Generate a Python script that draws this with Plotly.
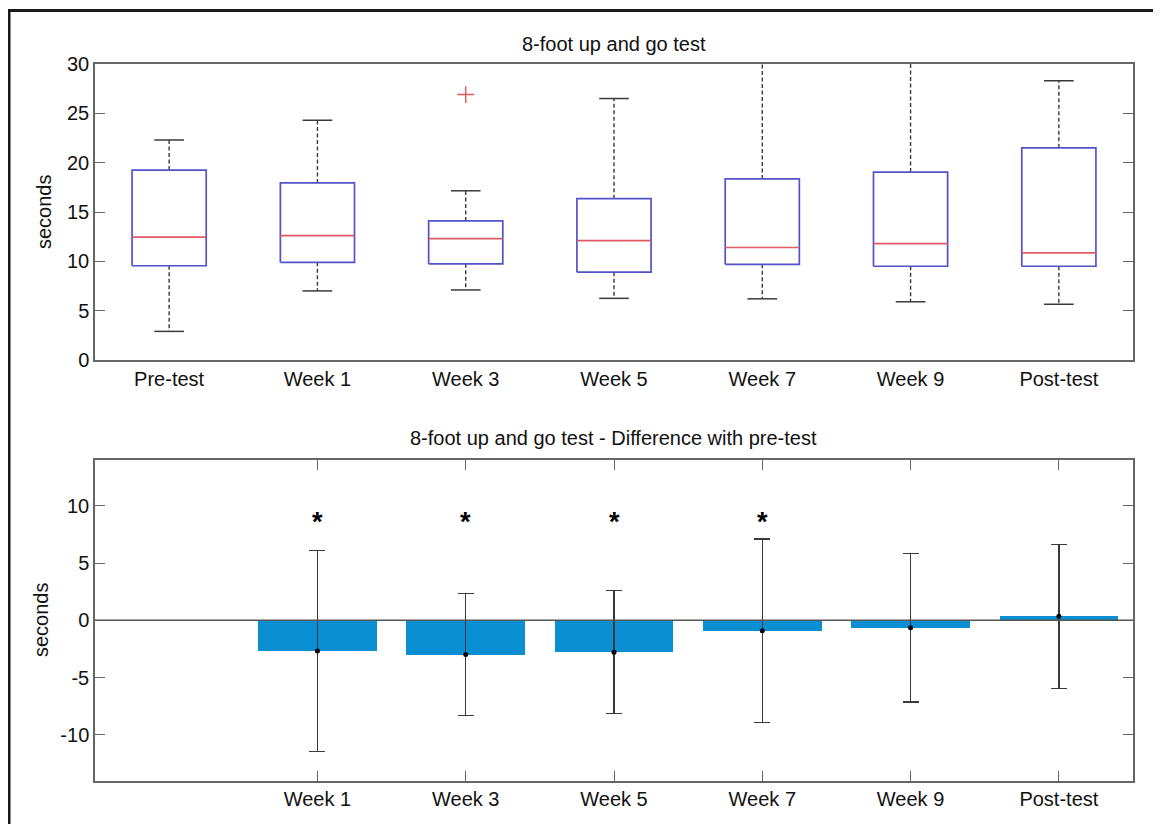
import plotly.graph_objects as go

# ---------------- data ----------------
categories = ["Pre-test", "Week 1", "Week 3", "Week 5", "Week 7", "Week 9", "Post-test"]
lower_whisker = [2.9, 7.0, 7.1, 6.25, 6.2, 5.9, 5.65]
q1 = [9.55, 9.9, 9.75, 8.9, 9.7, 9.5, 9.5]
median = [12.45, 12.6, 12.3, 12.1, 11.4, 11.8, 10.85]
q3 = [19.25, 17.95, 14.1, 16.35, 18.35, 19.05, 21.5]
upper_whisker = [22.3, 24.3, 17.15, 26.5, 33.0, 32.0, 28.3]
outlier_cat = ["Week 3"]
outlier_val = [26.9]

diff_categories = ["Week 1", "Week 3", "Week 5", "Week 7", "Week 9", "Post-test"]
diff_mean = [-2.67, -2.99, -2.78, -0.9, -0.64, 0.35]
diff_sd = [8.75, 5.33, 5.36, 8.0, 6.5, 6.27]
significant = [True, True, True, True, False, False]
sig_y = 9.0

top_yticks = [0, 5, 10, 15, 20, 25, 30]
bot_yticks = [-10, -5, 0, 5, 10]

# ---------------- styling ----------------
W, H = 1161, 824
OFF = 8  # page body margin
FONT = "Liberation Sans, Arial, sans-serif"
FS = 20
TXT = "#111111"
BOX_BLUE = "#5252cc"
MED_RED = "#e05a62"
WHISK = "#3a3a3a"
FRAME = "#666666"
BAR = "#0a8fd2"
BOX_HALF = 0.25
CAP_HALF = 0.1


def px(x):
    return (x - OFF) / W


def py(y):
    return 1 - (y - OFF) / H


pos = {c: i + 1 for i, c in enumerate(categories)}

fig = go.Figure()

# boxes
bx, by, mx, my, wx, wy, cx, cy = [], [], [], [], [], [], [], []
for c, lw, a, m, b, uw in zip(categories, lower_whisker, q1, median, q3, upper_whisker):
    p = pos[c]
    bx += [p - BOX_HALF, p + BOX_HALF, p + BOX_HALF, p - BOX_HALF, p - BOX_HALF, None]
    by += [a, a, b, b, a, None]
    mx += [p - BOX_HALF, p + BOX_HALF, None]
    my += [m, m, None]
    wx += [p, p, None, p, p, None]
    wy += [b, uw, None, a, lw, None]
    cx += [p - CAP_HALF, p + CAP_HALF, None, p - CAP_HALF, p + CAP_HALF, None]
    cy += [uw, uw, None, lw, lw, None]

fig.add_trace(go.Scatter(x=wx, y=wy, mode="lines", line=dict(color=WHISK, width=1.4, dash="4px,2.5px"),
                         xaxis="x", yaxis="y", hoverinfo="skip", showlegend=False))
fig.add_trace(go.Scatter(x=cx, y=cy, mode="lines", line=dict(color=WHISK, width=1.5),
                         xaxis="x", yaxis="y", hoverinfo="skip", showlegend=False))
fig.add_trace(go.Scatter(x=bx, y=by, mode="lines", line=dict(color=BOX_BLUE, width=1.7),
                         fill="toself", fillcolor="white",
                         xaxis="x", yaxis="y", hoverinfo="skip", showlegend=False))
fig.add_trace(go.Scatter(x=mx, y=my, mode="lines", line=dict(color=MED_RED, width=1.7),
                         xaxis="x", yaxis="y", hoverinfo="skip", showlegend=False))
fig.add_trace(go.Scatter(x=[pos[c] for c in outlier_cat], y=outlier_val, mode="markers",
                         marker=dict(symbol="cross-thin", size=12, line=dict(color=MED_RED, width=1.5)),
                         xaxis="x", yaxis="y", hoverinfo="skip", showlegend=False))

# difference bars
dpos = [pos[c] for c in diff_categories]
fig.add_trace(go.Bar(x=dpos, y=diff_mean, width=0.8, marker=dict(color=BAR, line=dict(width=0)),
                     error_y=dict(type="data", array=diff_sd, color=WHISK, thickness=1.3, width=8),
                     xaxis="x2", yaxis="y2", showlegend=False))
fig.add_trace(go.Scatter(x=dpos, y=diff_mean, mode="markers", marker=dict(color="black", size=5),
                         xaxis="x2", yaxis="y2", hoverinfo="skip", showlegend=False))

xd = [px(95), px(1133)]
top_dom = [py(360), py(64)]
bot_dom = [py(780.7), py(460)]

axis_common = dict(showline=True, linecolor=FRAME, linewidth=1.5, showgrid=False, zeroline=False,
                   automargin=False,
                   tickcolor=FRAME, tickwidth=1.2, tickfont=dict(family=FONT, size=FS, color=TXT))

annotations = [
    dict(text="8-foot up and go test", x=px(613.5), y=py(44), xref="paper", yref="paper",
         showarrow=False, xanchor="center", yanchor="middle", font=dict(family=FONT, size=FS, color=TXT)),
    dict(text="8-foot up and go test - Difference with pre-test", x=px(613), y=py(438),
         xref="paper", yref="paper", showarrow=False, xanchor="center", yanchor="middle",
         font=dict(family=FONT, size=FS, color=TXT)),
    dict(text="seconds", x=px(44), y=py(212), xref="paper", yref="paper", textangle=-90,
         showarrow=False, xanchor="center", yanchor="middle", font=dict(family=FONT, size=FS, color=TXT)),
    dict(text="seconds", x=px(41), y=py(620), xref="paper", yref="paper", textangle=-90,
         showarrow=False, xanchor="center", yanchor="middle", font=dict(family=FONT, size=FS, color=TXT)),
]
for p, s in zip(dpos, significant):
    if s:
        annotations.append(dict(text="<b>*</b>", x=p, y=sig_y, xref="x2", yref="y2", showarrow=False,
                                xanchor="center", yanchor="middle", yshift=-5,
                                font=dict(family=FONT, size=27, color="black")))

fig.update_layout(
    width=W, height=H, autosize=False,
    margin=dict(l=0, r=0, t=0, b=0, pad=0, autoexpand=False),
    paper_bgcolor="white", plot_bgcolor="white",
    font=dict(family=FONT, color=TXT),
    bargap=0,
    xaxis=dict(domain=xd, anchor="y", range=[0.5, 7.5], tickmode="array",
               tickvals=[pos[c] for c in categories], ticktext=categories,
               ticks="", mirror=True, **axis_common),
    yaxis=dict(domain=top_dom, anchor="x", range=[0, 30], tickmode="array",
               tickvals=top_yticks, ticktext=[str(v) for v in top_yticks],
               ticks="inside", ticklen=10, mirror="ticks", **axis_common),
    xaxis2=dict(domain=xd, anchor="y2", range=[0.5, 7.5], tickmode="array",
                tickvals=dpos, ticktext=diff_categories,
                ticks="inside", ticklen=10, mirror="ticks", **axis_common),
    yaxis2=dict(domain=bot_dom, anchor="x2", range=[-14, 14], tickmode="array",
                tickvals=bot_yticks, ticktext=[str(v) for v in bot_yticks],
                ticks="inside", ticklen=10, mirror="ticks", **axis_common),
    annotations=annotations,
    shapes=[
        dict(type="line", xref="paper", yref="paper", x0=px(8), x1=1, y0=py(10.5), y1=py(10.5),
             line=dict(color="#1a1a1a", width=3)),
        dict(type="line", xref="paper", yref="paper", x0=px(9), x1=px(9), y0=0, y1=py(10.5),
             line=dict(color="#1a1a1a", width=3)),
    ],
)

# zero line on the difference chart, drawn above the bars
fig.add_shape(type="line", xref="x2 domain", yref="y2", x0=0, x1=1, y0=0, y1=0,
              line=dict(color="#555555", width=1.5), layer="above")

fig.write_html("out.html")
